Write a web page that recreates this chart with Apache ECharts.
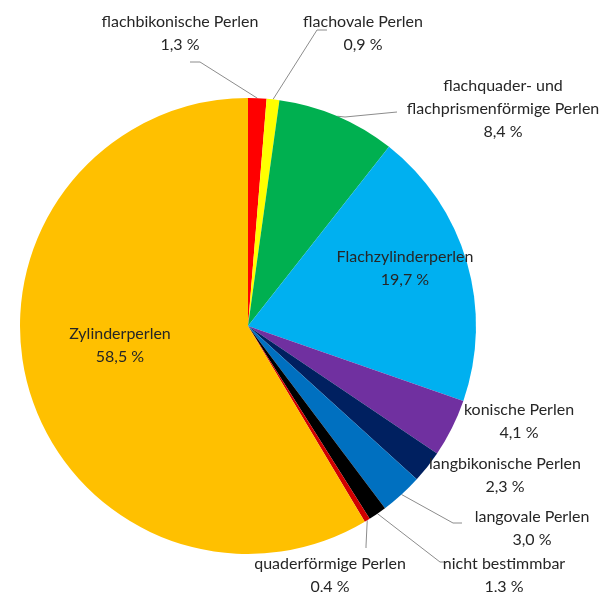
<!DOCTYPE html>
<html>
<head>
<meta charset="utf-8">
<script src="https://cdn.jsdelivr.net/npm/echarts@6/dist/echarts.min.js"></script>
<style>
html,body{margin:0;padding:0;background:#fff;}
#chart{width:613px;height:592px;}
</style>
</head>
<body>
<div id="chart"></div>
<script>
const categories = [
  'flachbikonische Perlen',
  'flachovale Perlen',
  'flachquader- und\nflachprismenförmige Perlen',
  'Flachzylinderperlen',
  'konische Perlen',
  'langbikonische Perlen',
  'langovale Perlen',
  'nicht bestimmbar',
  'quaderförmige Perlen',
  'Zylinderperlen'
];
const values = [1.3, 0.9, 8.4, 19.7, 4.1, 2.3, 3.0, 1.3, 0.4, 58.5];
const colors = ['#FF0000', '#FFFF00', '#00B050', '#00B0F0', '#7030A0', '#002060', '#0070C0', '#000000', '#D00000', '#FFC000'];

// label anchor positions (centre of text block) and leader line bends
const labelPos = [
  [180, 33], [363, 33], [503, 109], [405, 268], [519, 421],
  [505, 475], [532, 528], [504, 575], [330, 575], [120, 345]
];
const leaderBends = [
  [[200, 62], [190, 62]],
  [[317, 30], [327, 30]],
  [[345, 117], [397, 112]],
  null, null, null,
  [[453, 523], [462, 523]],
  [[440, 562], [447, 562]],
  [[366, 546], [366, 548]],
  null
];

const chart = echarts.init(document.getElementById('chart'));
const data = categories.map((c, i) => ({
  name: c,
  value: values[i],
  itemStyle: { color: colors[i] },
  labelLine: { show: leaderBends[i] !== null }
}));

chart.setOption({
  animation: false,
  series: [{
    type: 'pie',
    center: [248, 326],
    radius: 228,
    startAngle: 90,
    clockwise: true,
    avoidLabelOverlap: false,
    itemStyle: { borderWidth: 0 },
    label: {
      show: true,
      position: 'outside',
      formatter: p => p.name + '\n' + p.value.toFixed(1).replace('.', ',') + ' %',
      fontFamily: 'Lato, "Open Sans", sans-serif',
      fontSize: 16,
      lineHeight: 23,
      color: '#262626',
      align: 'center'
    },
    labelLine: {
      show: true,
      lineStyle: { color: '#8c8c8c', width: 1 }
    },
    labelLayout: function (params) {
      const i = params.dataIndex;
      const res = {
        x: labelPos[i][0],
        y: labelPos[i][1],
        align: 'center',
        verticalAlign: 'middle'
      };
      if (leaderBends[i] && params.labelLinePoints) {
        const start = params.labelLinePoints[0];
        res.labelLinePoints = [start, leaderBends[i][0], leaderBends[i][1]];
      }
      return res;
    },
    data: data
  }]
});
</script>
</body>
</html>
